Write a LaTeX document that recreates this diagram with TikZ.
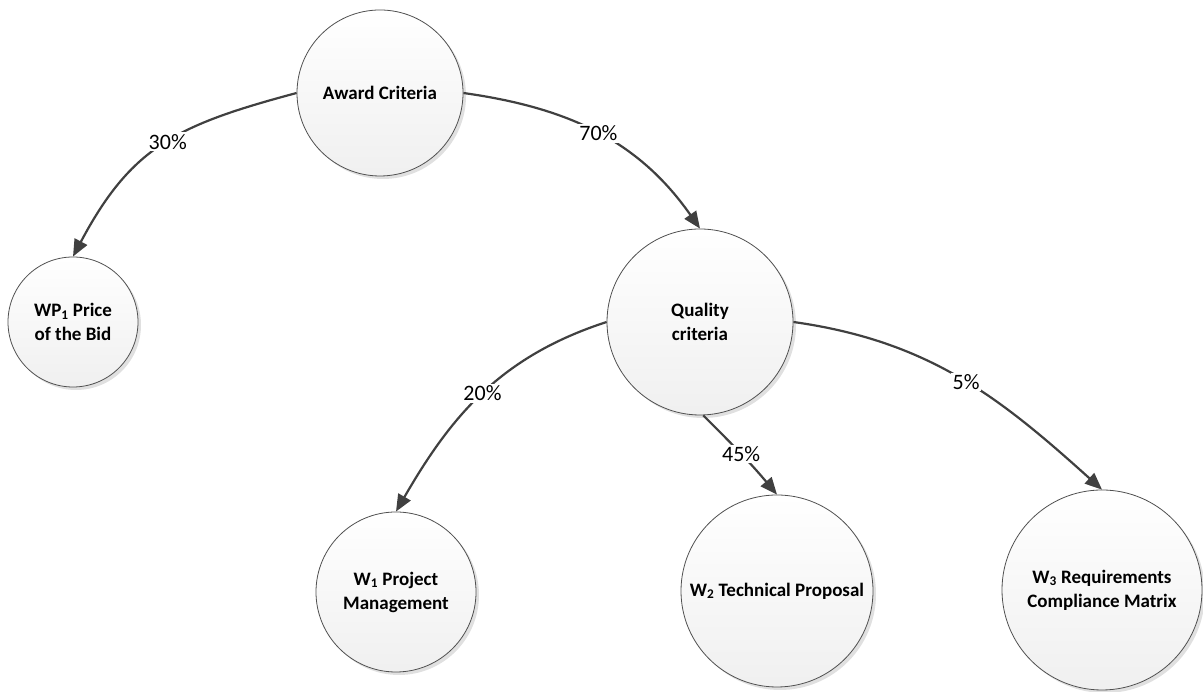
\documentclass[tikz,border=0pt]{standalone}
\usepackage{fontspec}
\setmainfont{Carlito}
\usepackage{tikz}
\usetikzlibrary{arrows.meta,shadows}
\definecolor{edgegray}{HTML}{404040}
\definecolor{rimgray}{HTML}{505050}

\begin{document}
\begin{tikzpicture}[x=1pt,y=1pt,
    crit/.style={circle,draw=rimgray,line width=0.8pt,top color=white,bottom color=black!6,
      drop shadow={shadow xshift=3pt,shadow yshift=-3pt,fill=black!12,opacity=1},
      align=center,font=\fontsize{19}{24}\selectfont\bfseries,inner sep=0pt},
    weight/.style={-{Triangle[length=17pt,width=14pt]},draw=edgegray,line width=2.2pt},
    pct/.style={fill=white,inner sep=1.5pt,font=\fontsize{22}{24}\selectfont}]
    \useasboundingbox (0,0) rectangle (1203,692);
    % criteria
    \node[crit,minimum size=166pt] (award)   at (380,599)  {Award Criteria};
    \node[crit,minimum size=130pt] (wp1)     at (73,370)   {WP\textsubscript{1} Price\\of the Bid};
    \node[crit,minimum size=186pt] (quality) at (700,370)  {Quality\\criteria};
    \node[crit,minimum size=160pt] (w1)      at (396,100)  {W\textsubscript{1} Project\\Management};
    \node[crit,minimum size=192pt] (w2)      at (777,101)  {W\textsubscript{2} Technical Proposal};
    \node[crit,minimum size=200pt] (w3)      at (1102,102) {W\textsubscript{3} Requirements\\Compliance Matrix};
    % weights
    \draw[weight] (award.west) to[out=195,in=62,looseness=1.15] node[pct,pos=0.47] {30\%} (wp1.north);
    \draw[weight] (award.east) to[out=-8,in=125] node[pct,pos=0.5] {70\%} (quality.north);
    \draw[weight] (quality.west) to[out=198,in=60] node[pct] {20\%} (w1.north);
    \draw[weight] (quality.-88) to[out=-45,in=130] node[pct] {45\%} (w2.north);
    \draw[weight] (quality.east) to[out=-8,in=138] node[pct,pos=0.52] {5\%} (w3.north);
\end{tikzpicture}
\end{document}
